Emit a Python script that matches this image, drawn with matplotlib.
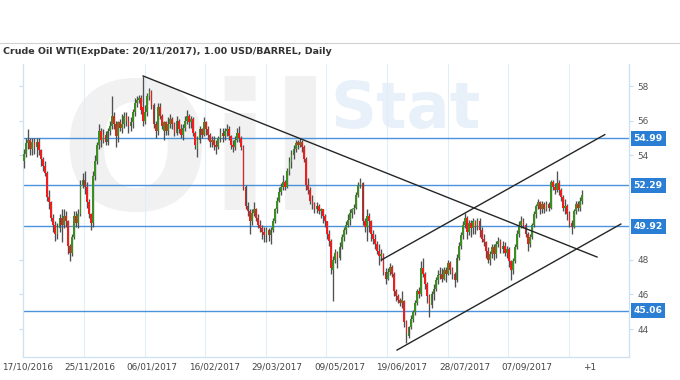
# Crude Oil WTI daily candles with trend lines and price levels
import numpy as np
import matplotlib
matplotlib.use('Agg')
import matplotlib.pyplot as plt
from matplotlib.lines import Line2D

title = 'Crude Oil WTI(ExpDate: 20/11/2017), 1.00 USD/BARREL, Daily'

# daily OHLC (one row = 10 sessions)
opens = [
    53.7, 54.1, 54.7, 54.9, 54.4, 54.8, 54.5, 54.8, 54.3, 53.8,
    53.4, 53.0, 51.6, 51.3, 50.4, 50.0, 49.5, 49.8, 50.4, 50.0,
    50.5, 50.2, 48.8, 48.4, 49.3, 50.5, 50.1, 50.6, 52.3, 52.6,
    52.2, 51.3, 50.6, 50.1, 52.8, 53.7, 54.6, 55.4, 54.9, 55.2,
    54.8, 55.4, 55.7, 56.3, 55.8, 55.1, 55.9, 55.6, 55.8, 56.3,
    56.0, 55.7, 55.9, 56.5, 57.0, 57.2, 57.3, 56.8, 56.0, 56.5,
    57.4, 57.7, 56.9, 55.8, 55.4, 56.8, 56.3, 55.4, 55.9, 55.4,
    55.8, 56.1, 55.8, 55.3, 56.0, 55.5, 55.2, 55.6, 56.0, 56.3,
    55.9, 56.1, 55.3, 54.4, 54.9, 55.5, 55.2, 55.9, 55.5, 55.2,
    54.8, 54.9, 54.6, 54.5, 55.0, 55.3, 55.1, 55.4, 55.5, 55.1,
    54.6, 54.5, 54.9, 55.3, 55.0, 54.5, 52.2, 51.1, 50.8, 50.2,
    50.7, 50.9, 50.4, 50.0, 49.8, 49.6, 49.4, 49.7, 49.4, 49.7,
    50.2, 50.9, 51.4, 51.9, 52.2, 52.5, 52.2, 53.1, 53.6, 54.0,
    54.4, 54.8, 54.6, 54.8, 54.5, 53.8, 52.3, 52.0, 51.4, 51.2,
    50.9, 51.1, 50.8, 50.9, 50.5, 50.2, 49.5, 49.1, 47.4, 48.0,
    48.4, 48.1, 48.7, 49.3, 49.7, 50.0, 50.3, 50.7, 50.9, 51.0,
    51.7, 52.3, 52.4, 50.2, 49.9, 50.5, 50.2, 49.5, 49.2, 48.9,
    48.5, 48.2, 48.3, 47.3, 46.9, 47.3, 47.6, 47.2, 46.2, 45.9,
    45.7, 45.5, 45.6, 44.4, 43.6, 44.1, 44.6, 45.0, 45.5, 46.2,
    46.0, 47.5, 47.2, 46.6, 45.9, 45.4, 46.0, 46.3, 46.8, 47.1,
    47.2, 46.9, 47.4, 47.2, 47.8, 47.4, 47.2, 46.8, 48.1, 48.8,
    49.4, 50.0, 50.4, 49.6, 50.1, 49.8, 50.2, 49.9, 50.2, 49.7,
    49.2, 49.0, 48.5, 48.0, 48.3, 48.7, 48.3, 48.9, 49.1, 48.6,
    48.8, 48.4, 48.6, 47.9, 47.4, 47.9, 48.7, 49.5, 50.0, 50.2,
    50.0, 49.5, 48.9, 49.3, 50.0, 50.6, 51.1, 51.3, 50.9, 51.2,
    50.9, 51.2, 51.0, 52.5, 52.2, 52.0, 52.4, 52.0, 51.6, 51.0,
    51.1, 50.6, 50.1, 49.9, 50.8, 51.2, 51.0, 51.4,
]
highs = [
    54.4, 55.0, 55.5, 55.0, 55.0, 55.0, 55.0, 55.0, 54.4, 53.9,
    53.7, 53.1, 52.0, 51.4, 50.6, 50.2, 50.1, 50.6, 50.9, 50.9,
    50.8, 50.3, 48.9, 49.5, 50.8, 50.8, 50.9, 52.6, 53.0, 53.1,
    52.5, 51.5, 50.7, 53.1, 54.0, 54.8, 55.8, 55.6, 55.5, 55.4,
    55.6, 56.0, 57.4, 56.5, 56.0, 56.0, 56.1, 56.4, 56.5, 56.5,
    56.3, 56.2, 56.7, 57.3, 57.4, 57.5, 57.5, 58.6, 56.9, 57.6,
    57.9, 57.8, 57.0, 56.0, 57.0, 57.0, 56.4, 56.0, 56.0, 56.2,
    56.4, 56.2, 55.9, 56.3, 56.1, 55.8, 55.8, 56.3, 56.6, 56.4,
    56.3, 56.2, 55.4, 55.1, 55.7, 55.6, 56.2, 56.0, 55.7, 55.3,
    55.1, 55.1, 54.9, 55.1, 55.6, 55.6, 55.6, 55.8, 55.7, 55.2,
    54.9, 55.1, 55.6, 55.7, 55.1, 54.6, 52.3, 51.3, 50.9, 50.9,
    51.3, 51.0, 50.6, 50.3, 50.0, 49.9, 49.9, 49.8, 49.9, 50.4,
    51.0, 51.6, 52.2, 52.4, 52.9, 52.6, 53.3, 53.9, 54.3, 54.6,
    54.9, 54.9, 55.0, 54.9, 54.6, 53.9, 52.7, 52.2, 51.7, 51.3,
    51.3, 51.2, 51.0, 50.9, 50.6, 50.2, 49.7, 49.2, 48.2, 48.6,
    48.5, 49.0, 49.5, 49.9, 50.2, 50.6, 50.9, 51.0, 51.2, 51.9,
    52.5, 52.7, 52.5, 50.4, 50.9, 50.7, 50.3, 49.7, 49.5, 49.1,
    48.9, 48.6, 48.4, 47.5, 47.5, 47.8, 47.7, 47.3, 46.3, 46.0,
    45.8, 46.2, 45.7, 44.5, 44.2, 44.8, 45.1, 45.7, 46.3, 46.4,
    47.9, 48.1, 47.3, 46.7, 46.0, 46.2, 46.6, 47.0, 47.4, 47.6,
    47.5, 47.6, 47.6, 48.0, 47.9, 47.6, 47.3, 48.3, 49.0, 49.6,
    50.2, 50.7, 50.5, 50.3, 50.3, 50.4, 50.3, 50.4, 50.4, 49.9,
    49.5, 49.1, 48.7, 48.5, 48.9, 48.9, 49.1, 49.3, 49.2, 49.1,
    49.0, 48.8, 48.7, 48.0, 48.1, 48.9, 49.7, 50.2, 50.5, 50.4,
    50.1, 49.6, 49.5, 50.1, 50.8, 51.2, 51.5, 51.4, 51.4, 51.3,
    51.4, 51.3, 52.6, 52.6, 52.4, 53.1, 52.6, 52.1, 51.7, 51.5,
    51.2, 50.8, 50.3, 50.9, 51.4, 51.4, 51.6, 52.0,
]
lows = [
    53.3, 53.9, 54.4, 54.0, 54.0, 54.1, 53.9, 54.0, 53.4, 53.1,
    52.8, 51.4, 50.9, 50.2, 49.6, 49.1, 49.2, 49.6, 49.0, 49.8,
    49.9, 48.3, 47.9, 48.2, 49.2, 49.9, 49.8, 50.5, 52.1, 51.8,
    51.0, 50.4, 49.7, 49.9, 52.6, 53.5, 54.4, 54.5, 54.7, 54.6,
    54.6, 55.2, 55.5, 55.5, 54.5, 54.8, 55.4, 55.3, 55.6, 55.7,
    55.3, 55.4, 55.6, 56.3, 56.8, 57.0, 56.4, 55.7, 55.8, 56.3,
    57.2, 56.7, 55.6, 55.0, 55.2, 56.1, 55.5, 54.9, 55.2, 55.2,
    55.6, 55.5, 55.1, 55.2, 55.3, 55.0, 54.9, 55.4, 55.8, 55.6,
    55.6, 55.1, 54.4, 53.9, 54.7, 55.0, 55.1, 55.2, 54.9, 54.5,
    54.5, 54.3, 54.1, 54.4, 54.8, 54.8, 54.9, 55.1, 54.9, 54.4,
    54.2, 54.3, 54.8, 54.8, 54.3, 52.0, 50.9, 50.5, 49.5, 50.0,
    50.5, 50.2, 49.8, 49.6, 49.2, 49.0, 49.0, 49.1, 48.9, 49.6,
    50.1, 50.7, 51.3, 51.7, 52.0, 52.0, 52.1, 52.9, 53.3, 53.8,
    54.2, 54.4, 54.5, 54.2, 53.6, 52.0, 51.8, 51.2, 50.9, 50.7,
    50.7, 50.6, 50.4, 50.1, 49.9, 49.2, 48.8, 47.2, 45.6, 47.8,
    47.5, 48.0, 48.6, 49.1, 49.5, 49.9, 50.0, 50.4, 50.6, 50.9,
    51.6, 52.1, 50.0, 49.6, 49.1, 49.6, 49.1, 48.9, 48.6, 48.3,
    47.7, 47.9, 47.1, 46.6, 46.8, 47.1, 47.0, 45.9, 45.6, 45.5,
    45.3, 45.2, 44.1, 43.2, 43.5, 44.0, 44.4, 44.8, 45.4, 45.8,
    45.9, 47.0, 46.3, 45.5, 44.7, 45.2, 45.7, 46.2, 46.6, 46.9,
    46.7, 46.8, 46.7, 47.1, 47.2, 46.9, 46.4, 46.7, 48.0, 48.6,
    49.2, 49.8, 49.2, 49.4, 49.3, 49.5, 49.5, 49.7, 49.3, 49.0,
    48.8, 48.1, 47.8, 47.7, 48.1, 48.0, 48.1, 48.7, 48.4, 48.4,
    48.2, 48.1, 47.6, 46.8, 47.2, 47.8, 48.6, 49.3, 49.8, 49.8,
    49.3, 48.5, 48.7, 49.2, 49.9, 50.4, 50.9, 50.6, 50.7, 50.7,
    50.8, 50.8, 50.9, 52.0, 51.8, 51.9, 51.7, 51.4, 50.8, 50.6,
    50.3, 49.9, 49.5, 49.8, 50.6, 50.8, 50.8, 51.2,
]
closes = [
    54.1, 54.7, 54.9, 54.4, 54.8, 54.5, 54.8, 54.3, 53.8, 53.4,
    53.0, 51.6, 51.3, 50.4, 50.0, 49.5, 49.8, 50.4, 50.0, 50.5,
    50.2, 48.8, 48.4, 49.3, 50.5, 50.1, 50.6, 52.3, 52.6, 52.2,
    51.3, 50.6, 50.1, 52.8, 53.7, 54.6, 55.4, 54.9, 55.2, 54.8,
    55.4, 55.7, 56.3, 55.8, 55.1, 55.9, 55.6, 55.8, 56.3, 56.0,
    55.7, 55.9, 56.5, 57.0, 57.2, 57.3, 56.6, 56.0, 56.5, 57.4,
    57.7, 56.9, 55.8, 55.4, 56.8, 56.3, 55.7, 55.9, 55.4, 55.8,
    56.1, 55.8, 55.3, 56.0, 55.5, 55.2, 55.6, 56.0, 56.3, 55.9,
    56.1, 55.3, 54.6, 54.9, 55.5, 55.2, 55.9, 55.5, 55.2, 54.8,
    54.9, 54.6, 54.5, 55.0, 55.3, 55.1, 55.4, 55.5, 55.1, 54.6,
    54.5, 54.9, 55.3, 55.0, 54.5, 52.2, 51.1, 50.8, 50.2, 50.7,
    50.9, 50.4, 50.0, 49.8, 49.6, 49.4, 49.7, 49.4, 49.7, 50.2,
    50.9, 51.4, 51.9, 52.2, 52.5, 52.2, 53.1, 53.6, 54.0, 54.4,
    54.7, 54.6, 54.8, 54.5, 53.8, 52.3, 52.0, 51.4, 51.2, 50.9,
    51.1, 50.8, 50.9, 50.5, 50.2, 49.5, 49.1, 47.5, 48.0, 48.4,
    48.1, 48.7, 49.3, 49.7, 50.0, 50.3, 50.7, 50.9, 51.0, 51.7,
    52.3, 52.4, 50.2, 49.9, 50.5, 50.2, 49.5, 49.2, 48.9, 48.5,
    48.2, 48.3, 47.3, 46.9, 47.3, 47.6, 47.2, 46.2, 45.9, 45.7,
    45.5, 45.7, 44.4, 43.8, 44.1, 44.6, 45.0, 45.5, 46.2, 46.0,
    47.5, 47.2, 46.6, 45.9, 45.4, 46.0, 46.3, 46.8, 47.1, 47.2,
    46.9, 47.4, 47.2, 47.8, 47.4, 47.2, 46.8, 48.1, 48.8, 49.4,
    50.0, 50.4, 49.6, 50.1, 49.8, 50.2, 49.9, 50.2, 49.7, 49.2,
    49.0, 48.5, 48.0, 48.3, 48.7, 48.3, 48.9, 49.1, 48.6, 48.8,
    48.4, 48.6, 47.9, 47.4, 47.9, 48.7, 49.5, 50.0, 50.2, 50.0,
    49.5, 48.9, 49.3, 50.0, 50.6, 51.1, 51.3, 50.9, 51.2, 50.9,
    51.2, 51.0, 52.5, 52.2, 52.0, 52.4, 52.0, 51.6, 51.0, 51.1,
    50.6, 50.1, 49.9, 50.8, 51.2, 51.0, 51.4, 51.7,
]

date_labels = ['17/10/2016', '25/11/2016', '06/01/2017', '16/02/2017', '29/03/2017',
               '09/05/2017', '19/06/2017', '28/07/2017', '07/09/2017', '+1']
levels = [54.99, 52.29, 49.92, 45.06]
price_ticks = [44, 46, 48, 54, 56, 58]

# drawn trend lines: (session index, price) at both ends
trend_down = [(57, 58.58), (274.2, 48.15)]
channel_top = [(171, 47.98), (277.9, 55.2)]
channel_bottom = [(178.5, 42.79), (285.6, 50.05)]

o = np.array(opens)
h = np.array(highs)
l = np.array(lows)
c = np.array(closes)
x = np.arange(len(c))

fig = plt.figure(figsize=(6.8, 3.8), dpi=100)
ax = fig.add_axes([23 / 680, 1 - 357 / 380, 606 / 680, 293 / 380])
ax.set_xlim(-0.48, 289.5)
ax.set_ylim(42.39, 59.27)

# faint watermark
ax.text(37 / 606, 1 - (210 - 64) / 293, 'Oil', transform=ax.transAxes,
        fontsize=127, fontweight='bold', color='#f1f1f1', va='baseline', ha='left', zorder=0)
ax.text((330 - 23) / 606, 1 - (128 - 64) / 293, 'Stat', transform=ax.transAxes,
        fontsize=46, fontweight='bold', color='#e8f1fa', va='baseline', ha='left', zorder=0)

# vertical grid
for gx in np.arange(1, 10) * 29 - 0.3:
    ax.axvline(gx, color='#e3edf7', lw=0.8, zorder=0.5)

# price levels
for lv in levels:
    ax.axhline(lv, color='#4a93dc', lw=1.0, zorder=2)
    ax.text(1.0075, lv, f'{lv:.2f}', transform=ax.get_yaxis_transform(),
            ha='left', va='center', color='white', fontsize=6.6, fontweight='bold',
            bbox=dict(boxstyle='square,pad=0.32', fc='#2a7fd5', ec='none'),
            clip_on=False, zorder=10)

# candles
body_col = np.where(c >= o, '#3a8e22', '#f21c1c')
ax.vlines(x, l, h, color='#505050', lw=0.95, zorder=3)
ax.bar(x, np.maximum(np.abs(c - o), 0.06), bottom=np.minimum(o, c), width=0.85,
       color=body_col, linewidth=0, zorder=4)

# trend lines
for ln in (trend_down, channel_top, channel_bottom):
    ax.plot([ln[0][0], ln[1][0]], [ln[0][1], ln[1][1]], color='#262626', lw=1.0, zorder=5)

# axes styling
ax.yaxis.tick_right()
ax.set_yticks(price_ticks)
ax.set_yticklabels([str(t) for t in price_ticks])
ax.tick_params(axis='y', which='both', left=True, right=True, length=3, width=0.8,
               color='#c9dcef', labelsize=6.4, labelcolor='#555555', pad=3)
ax.set_xticks(np.arange(len(date_labels)) * 29.9 + 1.5)
ax.set_xticklabels(date_labels)
ax.tick_params(axis='x', length=0, labelsize=6.4, labelcolor='#444444', pad=4)
for side in ('left', 'right', 'bottom'):
    ax.spines[side].set_color('#cfe0f1')
    ax.spines[side].set_linewidth(0.9)
ax.spines['top'].set_visible(False)

# title bar
fig.text(3 / 680, 1 - 51 / 380, title, fontsize=6.8, fontweight='bold', color='#333333',
         ha='left', va='center')
fig.add_artist(Line2D([0, 1], [1 - 43 / 380] * 2, color='#d0d0d0', lw=0.8))

fig.savefig('out.png', dpi=100, facecolor='white')
